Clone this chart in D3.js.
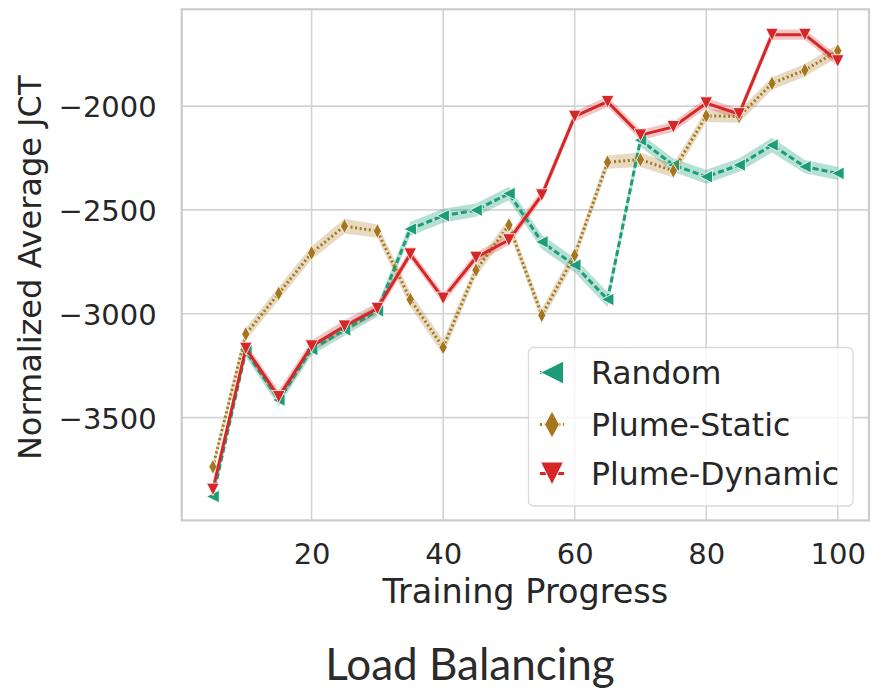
<!DOCTYPE html>
<html>
<head>
<meta charset="utf-8">
<script src="https://cdn.jsdelivr.net/npm/d3@7"></script>
<style>
  html, body { margin: 0; padding: 0; background: #ffffff; }
  svg { display: block; }
</style>
</head>
<body>
<svg id="chart" width="874" height="692"></svg>
<script>
// ---- data ----
const progress = [5, 10, 15, 20, 25, 30, 35, 40, 45, 50, 55, 60, 65, 70, 75, 80, 85, 90, 95, 100];

const randomMean = [-3880, -3180, -3415, -3172, -3078, -2986, -2592, -2528, -2501, -2421, -2654, -2766, -2931, -2164, -2284, -2340, -2284, -2188, -2292, -2324];
const staticMean = [-3737, -3098, -2902, -2707, -2578, -2602, -2931, -3162, -2790, -2573, -3007, -2718, -2270, -2258, -2312, -2047, -2050, -1891, -1827, -1734];
const dynamicMean = [-3846, -3167, -3400, -3156, -3060, -2975, -2713, -2926, -2729, -2645, -2429, -2050, -1979, -2140, -2100, -1986, -2038, -1656, -1656, -1783];

// half-width of the confidence band around each mean
const randomCI = [30, 28, 30, 28, 28, 28, 34, 34, 32, 32, 34, 34, 36, 32, 32, 34, 32, 36, 32, 32];
const staticCI = [28, 30, 32, 32, 35, 32, 35, 35, 32, 32, 32, 32, 32, 35, 32, 30, 30, 30, 30, 30];
const dynamicCI = [25, 25, 32, 28, 30, 28, 25, 25, 25, 25, 25, 25, 25, 25, 25, 25, 25, 25, 25, 25];

const seriesNames = ["Random", "Plume-Static", "Plume-Dynamic"];
const seriesColors = ["#1b9e77", "#a6761d", "#d62728"];

const xTicks = [20, 40, 60, 80, 100];
const yTicks = [-3500, -3000, -2500, -2000];

const xLabel = "Training Progress";
const yLabel = "Normalized Average JCT";
const caption = "Load Balancing";

// ---- layout ----
const svg = d3.select("#chart");
const plot = { left: 181.7, right: 869, top: 9.3, bottom: 520.4 };

const x = d3.scaleLinear().domain([0.25, 104.75]).range([plot.left, plot.right]);
const y = d3.scaleLinear().domain([-3995, -1534]).range([plot.bottom, plot.top]);

const textColor = "#262626";
const gridColor = "#d3d3d3";
const font = "DejaVu Sans, sans-serif";

// grid
const g = svg.append("g");
g.append("g").selectAll("line").data(xTicks).join("line")
  .attr("x1", d => x(d)).attr("x2", d => x(d))
  .attr("y1", plot.top).attr("y2", plot.bottom)
  .attr("stroke", gridColor).attr("stroke-width", 1.6);
g.append("g").selectAll("line").data(yTicks).join("line")
  .attr("x1", plot.left).attr("x2", plot.right)
  .attr("y1", d => y(d)).attr("y2", d => y(d))
  .attr("stroke", gridColor).attr("stroke-width", 1.6);

// axes (labels only, no tick marks)
const fmt = d => (d < 0 ? "\u2212" + Math.abs(d) : String(d));
const xAxis = d3.axisBottom(x).tickValues(xTicks).tickFormat(fmt).tickSize(0).tickPadding(0);
const yAxis = d3.axisLeft(y).tickValues(yTicks).tickFormat(fmt).tickSize(0).tickPadding(0);

const gx = svg.append("g").attr("transform", `translate(0,${plot.bottom})`).call(xAxis);
gx.select(".domain").remove();
gx.selectAll("text").attr("y", 44).attr("dy", null)
  .attr("font-family", font).attr("font-size", 29).attr("fill", textColor);

const gy = svg.append("g").attr("transform", `translate(${plot.left},0)`).call(yAxis);
gy.select(".domain").remove();
gy.selectAll("text").attr("x", -25).attr("dy", "0.36em")
  .attr("font-family", font).attr("font-size", 29).attr("fill", textColor);

// series
const series = seriesNames.map((name, i) => ({
  name,
  color: seriesColors[i],
  mean: [randomMean, staticMean, dynamicMean][i],
  ci: [randomCI, staticCI, dynamicCI][i],
  dash: ["6,3", "2,2.6", null][i],
  marker: ["left", "thin_diamond", "down"][i],
  bandOpacity: [0.32, 0.27, 0.27][i]
}));

const area = d3.area()
  .x(d => x(d.x))
  .y0(d => y(d.v - d.e))
  .y1(d => y(d.v + d.e));
const line = d3.line().x(d => x(d.x)).y(d => y(d.v));

function markerPath(kind, s) {
  if (kind === "left") return `M${-s},0L${s},${-s}L${s},${s}Z`;
  if (kind === "down") return `M0,${s}L${-s},${-s}L${s},${-s}Z`;
  const w = s * 0.55;
  return `M0,${-s}L${w},0L0,${s}L${-w},0Z`;
}

const bands = svg.append("g");
const lines = svg.append("g");

series.forEach(s => {
  const pts = progress.map((p, i) => ({ x: p, v: s.mean[i], e: s.ci[i] }));
  bands.append("path").datum(pts)
    .attr("d", area)
    .attr("fill", s.color).attr("fill-opacity", s.bandOpacity).attr("stroke", "none");

  const sg = lines.append("g");
  sg.append("path").datum(pts)
    .attr("d", line)
    .attr("fill", "none").attr("stroke", s.color).attr("stroke-width", 3)
    .attr("stroke-dasharray", s.dash)
    .attr("stroke-linejoin", "round");
  sg.selectAll("path.mk").data(pts).join("path")
    .attr("class", "mk")
    .attr("transform", d => `translate(${x(d.x)},${y(d.v)})`)
    .attr("d", markerPath(s.marker, s.marker === "thin_diamond" ? 7.5 : 6.3))
    .attr("fill", s.color).attr("stroke", "#ffffff").attr("stroke-width", 0.8);
});

// frame
svg.append("rect")
  .attr("x", plot.left).attr("y", plot.top)
  .attr("width", plot.right - plot.left).attr("height", plot.bottom - plot.top)
  .attr("fill", "none").attr("stroke", "#cccccc").attr("stroke-width", 2.2);

// axis titles
svg.append("text")
  .attr("x", (plot.left + plot.right) / 2).attr("y", 603)
  .attr("text-anchor", "middle")
  .attr("font-family", font).attr("font-size", 33.5).attr("fill", textColor)
  .text(xLabel);

svg.append("text")
  .attr("transform", `translate(41,${(plot.top + plot.bottom) / 2 + 3}) rotate(-90)`)
  .attr("text-anchor", "middle")
  .attr("font-family", font).attr("font-size", 32).attr("fill", textColor)
  .text(yLabel);

// legend
const legend = svg.append("g");
legend.append("rect")
  .attr("x", 528.5).attr("y", 347.5).attr("width", 324.5).attr("height", 158.5)
  .attr("rx", 5).attr("ry", 5)
  .attr("fill", "#ffffff").attr("fill-opacity", 0.8)
  .attr("stroke", "#d9d9d9").attr("stroke-width", 1.3);

const rowY = [372.5, 424.5, 473.5];
series.forEach((s, i) => {
  const ry = rowY[i];
  legend.append("line")
    .attr("x1", 540).attr("x2", 564).attr("y1", ry).attr("y2", ry)
    .attr("stroke", s.color).attr("stroke-width", 3)
    .attr("stroke-dasharray", s.dash);
  legend.append("path")
    .attr("transform", `translate(552,${ry})`)
    .attr("d", markerPath(s.marker, s.marker === "thin_diamond" ? 13.5 : 11.5))
    .attr("fill", s.color).attr("stroke", "#ffffff").attr("stroke-width", 1);
  legend.append("text")
    .attr("x", 591).attr("y", ry).attr("dy", "0.36em")
    .attr("font-family", font).attr("font-size", 31.5).attr("fill", textColor)
    .text(s.name);
});

// caption under the chart
svg.append("text")
  .attr("x", 470).attr("y", 680)
  .attr("text-anchor", "middle")
  .attr("font-family", "Lato, 'Open Sans', sans-serif").attr("font-size", 44).attr("fill", "#2b2b2b")
  .text(caption);
</script>
</body>
</html>
